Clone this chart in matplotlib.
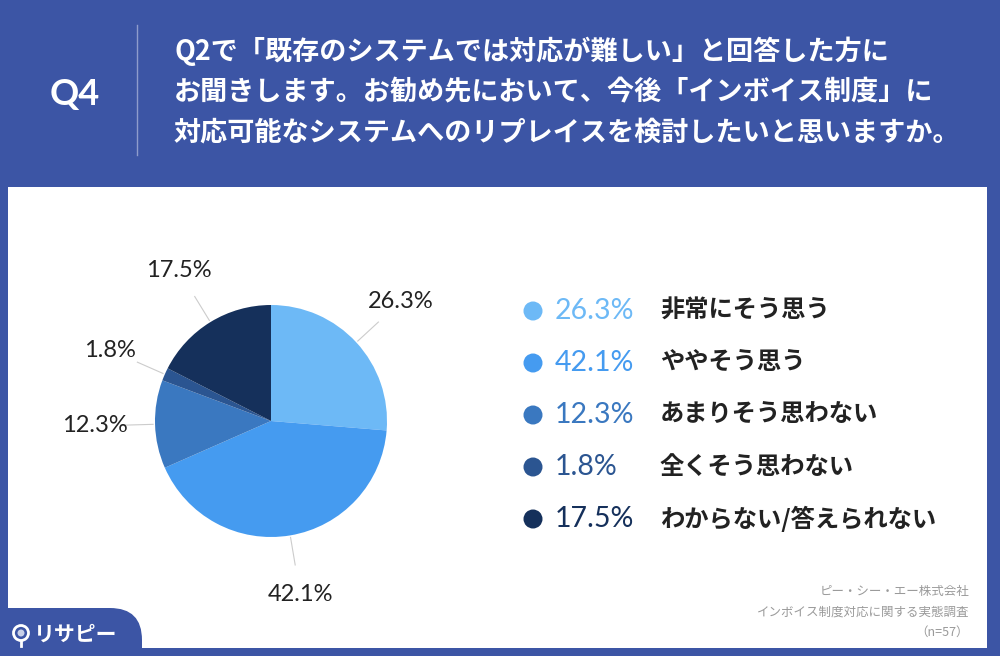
import numpy as np
import matplotlib
matplotlib.use("Agg")
import matplotlib.pyplot as plt
from matplotlib.patches import FancyBboxPatch, Rectangle, Circle

plt.rcParams["font.family"] = ["Noto Sans CJK JP", "DejaVu Sans"]

# Data.
categories = ["非常にそう思う", "ややそう思う", "あまりそう思わない",
              "全くそう思わない", "わからない/答えられない"]
values = [26.3, 42.1, 12.3, 1.8, 17.5]
pct_labels = ["26.3%", "42.1%", "12.3%", "1.8%", "17.5%"]
colors = ["#6db9f6", "#459bf0", "#3a78c0", "#2b5591", "#15305b"]
title_lines = ["Q2で「既存のシステムでは対応が難しい」と回答した方に",
               "お聞きします。お勧め先において、今後「インボイス制度」に",
               "対応可能なシステムへのリプレイスを検討したいと思いますか。"]
source_lines = ["ピー・シー・エー株式会社",
                "インボイス制度対応に関する実態調査",
                "（n=57）"]

W, H = 1000, 656
BLUE = "#3c55a5"

fig = plt.figure(figsize=(W / 100, H / 100), dpi=100)
fig.patch.set_facecolor(BLUE)

# Full-figure axes in pixel coordinates (y downwards).
bg = fig.add_axes([0, 0, 1, 1])
bg.set_xlim(0, W)
bg.set_ylim(H, 0)
bg.axis("off")

# White panel.
bg.add_patch(Rectangle((8, 187), 979, 461, facecolor="white",
                       edgecolor="none"))

# Logo tab bottom left.
bg.add_patch(FancyBboxPatch((-40, 608), 182, 80,
                            boxstyle="round,pad=0,rounding_size=32",
                            facecolor=BLUE, edgecolor="none"))
bg.add_patch(Circle((21, 633), 7.5, facecolor="none", edgecolor="white",
                    linewidth=2))
bg.add_patch(Circle((21, 633), 3.5, facecolor="#c8d0e8", edgecolor="none"))
bg.plot([21, 21], [641, 646], color="white", linewidth=2)
bg.text(34, 634, "リサピー", color="white", fontsize=15, fontweight="bold",
        va="center", ha="left")

# Header.
bg.text(75, 95, "Q4", color="white", fontsize=26, fontweight="bold",
        ha="center", va="center", family=["Lato", "DejaVu Sans"])
bg.plot([137, 137], [25, 155], color="#8e9ccc", linewidth=1)
for i, line in enumerate(title_lines):
    bg.text(174, 51 + i * 41, line, color="white", fontsize=19.5,
            fontweight="bold", ha="left", va="center")

# Source note.
for i, line in enumerate(source_lines):
    bg.text(969, 592 + i * 20, line, color="#9a9a9a", fontsize=9,
            ha="right", va="center")

# Legend.
for i, (pct, cat, col) in enumerate(zip(pct_labels, categories, colors)):
    y = 311 + i * 52
    bg.add_patch(Circle((533, y), 9.5, facecolor=col, edgecolor="none"))
    bg.text(555, y, pct, color=col, fontsize=20.5, ha="left", va="center",
            family=["Lato", "DejaVu Sans"])
    bg.text(660, y, cat, color="#222222", fontsize=17.5, fontweight="bold",
            ha="left", va="center")

# Pie chart (axes in pixel units around the centre).
cx, cy, half = 271, 421, 200
ax = fig.add_axes([(cx - half) / W, (H - cy - half) / H,
                   2 * half / W, 2 * half / H])
radius = 116
wedges, _ = ax.pie(values, colors=colors, startangle=90, counterclock=False,
                   radius=radius, wedgeprops=dict(linewidth=0))
ax.set_xlim(-half, half)
ax.set_ylim(-half, half)
ax.axis("off")

for w, lab in zip(wedges, pct_labels):
    ang = np.deg2rad((w.theta1 + w.theta2) / 2)
    ux, uy = np.cos(ang), np.sin(ang)
    ax.plot([ux * (radius + 2), ux * (radius + 30)],
            [uy * (radius + 2), uy * (radius + 30)],
            color="#cccccc", linewidth=0.8)
    ax.text(ux * 176, uy * 176, lab, color="#222222", fontsize=17,
            ha="center", va="center", family=["Lato", "DejaVu Sans"])

fig.savefig("out.png", dpi=100, facecolor=fig.get_facecolor())
